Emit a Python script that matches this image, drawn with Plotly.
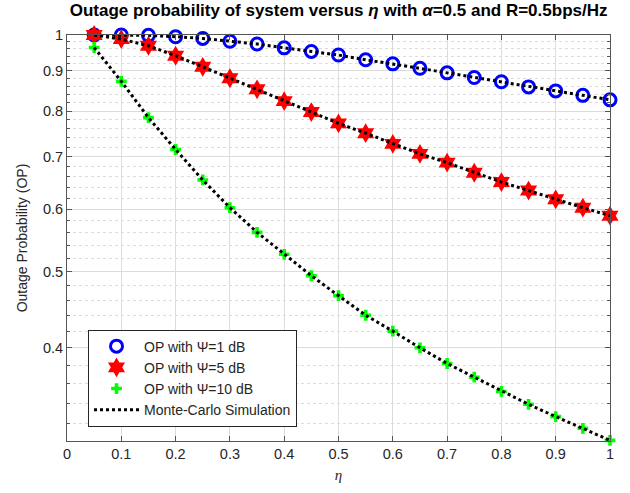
import plotly.graph_objects as go

eta = [0.05, 0.1, 0.15, 0.2, 0.25, 0.3, 0.35, 0.4, 0.45, 0.5,
       0.55, 0.6, 0.65, 0.7, 0.75, 0.8, 0.85, 0.9, 0.95, 1.0]

op_psi1 = [1.0, 1.0, 0.999, 0.995, 0.990, 0.982, 0.974, 0.963, 0.953, 0.943,
           0.930, 0.919, 0.907, 0.895, 0.883, 0.872, 0.859, 0.849, 0.838, 0.827]
op_psi5 = [1.0, 0.988, 0.969, 0.941, 0.911, 0.881, 0.853, 0.824, 0.798, 0.772,
           0.750, 0.727, 0.706, 0.688, 0.668, 0.650, 0.634, 0.618, 0.603, 0.589]
op_psi10 = [0.964, 0.873, 0.785, 0.715, 0.654, 0.603, 0.561, 0.526, 0.494, 0.466,
            0.440, 0.420, 0.400, 0.382, 0.367, 0.352, 0.339, 0.327, 0.316, 0.305]

sim_psi1 = op_psi1
sim_psi5 = op_psi5
sim_psi10 = op_psi10

x_ticks = [0, 0.1, 0.2, 0.3, 0.4, 0.5, 0.6, 0.7, 0.8, 0.9, 1]
x_ticklabels = ["0", "0.1", "0.2", "0.3", "0.4", "0.5", "0.6", "0.7", "0.8", "0.9", "1"]
y_ticks = [0.4, 0.5, 0.6, 0.7, 0.8, 0.9, 1]
y_ticklabels = ["0.4", "0.5", "0.6", "0.7", "0.8", "0.9", "1"]
y_minor = [0.32, 0.34, 0.36, 0.38, 0.42, 0.44, 0.46, 0.48, 0.52, 0.54, 0.56, 0.58,
           0.62, 0.64, 0.66, 0.68, 0.72, 0.74, 0.76, 0.78, 0.82, 0.84, 0.86, 0.88,
           0.92, 0.94, 0.96, 0.98]

fig = go.Figure()
fig.add_trace(go.Scatter(x=eta, y=op_psi1, mode="markers", name="OP with Ψ=1 dB", cliponaxis=False,
                         marker=dict(symbol="circle-open", size=12, color="#0000ff",
                                     line=dict(width=3, color="#0000ff"))))
fig.add_trace(go.Scatter(x=eta, y=op_psi5, mode="markers", name="OP with Ψ=5 dB", cliponaxis=False,
                         marker=dict(symbol="hexagram", size=15, color="#ff0000",
                                     line=dict(width=0))))
fig.add_trace(go.Scatter(x=eta, y=op_psi10, mode="markers", name="OP with Ψ=10 dB", cliponaxis=False,
                         marker=dict(symbol="cross", size=9, color="#00ff00",
                                     line=dict(width=0))))
line_style = dict(color="black", width=3, dash="dot")
fig.add_trace(go.Scatter(x=eta, y=sim_psi1, mode="lines", name="Monte-Carlo Simulation",
                         line=line_style))
fig.add_trace(go.Scatter(x=eta, y=sim_psi5, mode="lines", showlegend=False, line=line_style))
fig.add_trace(go.Scatter(x=eta, y=sim_psi10, mode="lines", showlegend=False, line=line_style))

axis_font = dict(family="Liberation Sans, Arial, sans-serif", size=14.5, color="#262626")

fig.update_layout(
    width=630, height=493,
    margin=dict(l=67, r=20, t=35, b=50),
    paper_bgcolor="white", plot_bgcolor="white",
    title=dict(text="<b>Outage probability of system versus <i>η</i> with <i>α</i>=0.5 and R=0.5bps/Hz</b>",
               x=0.5375, xanchor="center", y=0.992, yanchor="top",
               font=dict(family="Liberation Sans, Arial, sans-serif", size=17, color="black")),
    font=axis_font,
    showlegend=True,
    legend=dict(x=0.0387, y=0.2745, xanchor="left", yanchor="top",
                bgcolor="white", bordercolor="#262626", borderwidth=1,
                font=dict(family="Liberation Sans, Arial, sans-serif", size=14, color="#262626"),
                tracegroupgap=0, itemwidth=45),
)
fig.update_xaxes(range=[0, 1], tickvals=x_ticks, ticktext=x_ticklabels,
                 showgrid=True, gridcolor="#dcdcdc", gridwidth=1,
                 showline=True, linecolor="#555555", linewidth=1, mirror="ticks",
                 ticks="inside", ticklen=5, tickcolor="#555555",
                 zeroline=False, tickfont=axis_font,
                 title=dict(text="<i>η</i>", font=dict(family="Liberation Serif, serif", size=15, color="#262626"),
                            standoff=8))
fig.update_yaxes(type="log", range=[-0.5165, 0.0], tickvals=y_ticks, ticktext=y_ticklabels,
                 showgrid=True, gridcolor="#dcdcdc", gridwidth=1,
                 showline=True, linecolor="#555555", linewidth=1, mirror="ticks",
                 ticks="inside", ticklen=5, tickcolor="#555555",
                 zeroline=False, tickfont=axis_font,
                 minor=dict(tickmode="array", tickvals=y_minor, showgrid=True,
                            gridcolor="#dcdcdc", griddash="dot", gridwidth=1,
                            ticks="inside", ticklen=3, tickcolor="#555555"),
                 title=dict(text="Outage Probability (OP)",
                            font=dict(family="Liberation Sans, Arial, sans-serif", size=14, color="#262626"),
                            standoff=12))

fig.write_html("out.html")
